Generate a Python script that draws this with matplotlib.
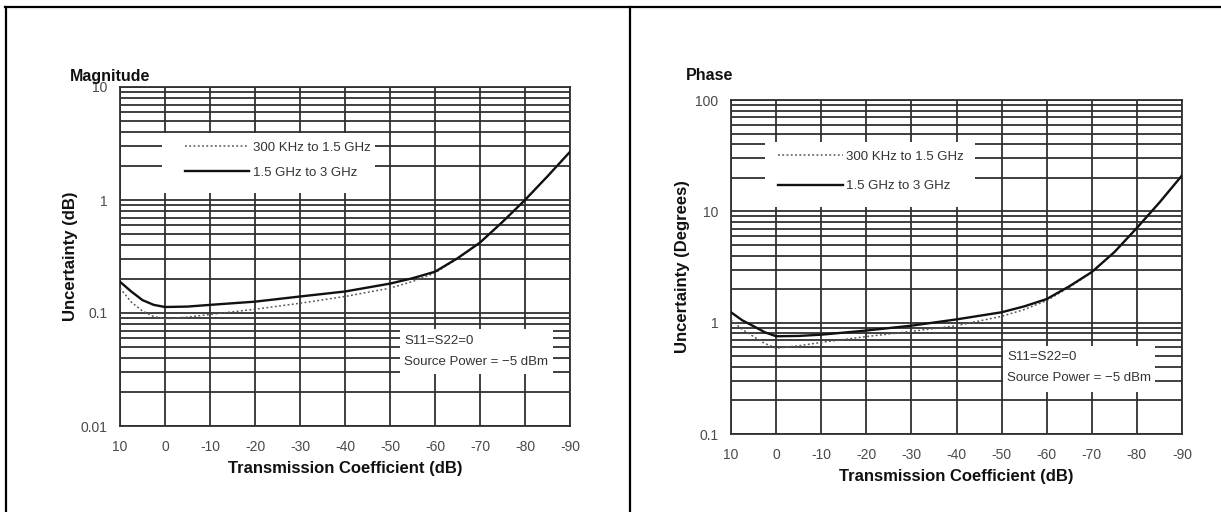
import matplotlib
matplotlib.use("Agg")
import matplotlib.pyplot as plt
from matplotlib.patches import Rectangle
from matplotlib.lines import Line2D
from matplotlib.ticker import FixedLocator, FixedFormatter, NullFormatter

plt.rcParams['font.family'] = ['Liberation Sans', 'DejaVu Sans']

# ---- data ----
x_db = [10, 7.5, 5, 2.5, 0, -5, -10, -20, -30, -40, -50, -55, -60, -65, -70, -75, -80, -85, -90]

mag_low = [0.166, 0.125, 0.104, 0.093, 0.089, 0.092, 0.097, 0.108, 0.122, 0.140, 0.166, 0.190, 0.226,
           0.303, 0.42, 0.64, 1.0, 1.62, 2.67]
mag_high = [0.189, 0.155, 0.130, 0.118, 0.113, 0.114, 0.118, 0.126, 0.140, 0.155, 0.182, 0.203, 0.232,
            0.305, 0.42, 0.64, 1.0, 1.62, 2.67]

ph_low = [1.06, 0.87, 0.75, 0.65, 0.59, 0.62, 0.665, 0.75, 0.835, 0.94, 1.14, 1.31, 1.58,
          2.08, 2.83, 4.3, 7.1, 12.0, 21.0]
ph_high = [1.24, 1.05, 0.93, 0.82, 0.755, 0.76, 0.78, 0.85, 0.94, 1.07, 1.24, 1.40, 1.63,
           2.12, 2.85, 4.3, 7.1, 12.0, 21.0]

x_ticks = [10, 0, -10, -20, -30, -40, -50, -60, -70, -80, -90]
x_ticklabels = ["10", "0", "-10", "-20", "-30", "-40", "-50", "-60", "-70", "-80", "-90"]

mag_yticks = [0.01, 0.1, 1, 10]
mag_yticklabels = ["0.01", "0.1", "1", "10"]
ph_yticks = [0.1, 1, 10, 100]
ph_yticklabels = ["0.1", "1", "10", "100"]

series_labels = ["300 KHz to 1.5 GHz", "1.5 GHz to 3 GHz"]
note_lines = ["S11=S22=0", "Source Power = \u22125 dBm"]

# ---- figure ----
W, H = 1221, 512
fig = plt.figure(figsize=(W / 100, H / 100), dpi=100)

GRID = '#303030'
TICKC = '#4a4a4a'


def fx(px):
    return px / W


def fy(py):
    return 1 - py / H


def make_panel(rect, y_low, y_high, yticks, yticklabels, ylim, title, title_xy, ylabel, ylabel_x,
               leg_box, leg_anchor, leg_spacing, note_box, note_xy):
    ax = fig.add_axes(rect)
    ax.set_yscale('log')
    ax.set_xlim(10, -90)
    ax.set_ylim(*ylim)
    ax.set_axisbelow(True)

    ax.xaxis.set_major_locator(FixedLocator(x_ticks))
    ax.xaxis.set_major_formatter(FixedFormatter(x_ticklabels))
    ax.yaxis.set_major_locator(FixedLocator(yticks))
    ax.yaxis.set_major_formatter(FixedFormatter(yticklabels))
    ax.yaxis.set_minor_formatter(NullFormatter())
    ax.tick_params(which='both', length=0, labelsize=10, labelcolor=TICKC)
    ax.tick_params(axis='x', pad=10)
    ax.tick_params(axis='y', pad=9)

    ax.grid(True, which='major', axis='x', color=GRID, lw=1.3)
    ax.grid(True, which='both', axis='y', color=GRID, lw=1.3)
    for s in ax.spines.values():
        s.set_color(GRID)
        s.set_linewidth(1.3)

    l1, = ax.plot(x_db, y_low, color='#555555', lw=1.1, ls=(0, (1.2, 1.6)), zorder=3)
    l2, = ax.plot(x_db, y_high, color='#111111', lw=1.7, zorder=4)

    # white legend box
    ax.add_patch(Rectangle((leg_box[0], leg_box[1]), leg_box[2] - leg_box[0], leg_box[3] - leg_box[1],
                           transform=ax.transAxes, facecolor='white', edgecolor='none', zorder=1.5))
    h1 = Line2D([], [], color='#555555', lw=1.1, ls=(0, (1.2, 1.6)))
    h2 = Line2D([], [], color='#111111', lw=1.7)
    leg = ax.legend([h1, h2], series_labels, loc='upper left', bbox_to_anchor=leg_anchor,
                    frameon=False, fontsize=9.5, handlelength=4.9, handletextpad=0.25,
                    labelspacing=leg_spacing, borderaxespad=0, borderpad=0)
    for t in leg.get_texts():
        t.set_color('#333333')

    # note box
    ax.add_patch(Rectangle((note_box[0], note_box[1]), note_box[2] - note_box[0], note_box[3] - note_box[1],
                           transform=ax.transAxes, facecolor='white', edgecolor='none', zorder=1.5))
    ax.text(note_xy[0], note_xy[1], note_lines[0], transform=ax.transAxes, fontsize=9.5,
            color='#333333', va='center', ha='left', zorder=5)
    ax.text(note_xy[0], note_xy[2], note_lines[1], transform=ax.transAxes, fontsize=9.5,
            color='#333333', va='center', ha='left', zorder=5)

    ax.set_xlabel("Transmission Coefficient (dB)", fontsize=12, fontweight='bold', labelpad=5, color='#111111')
    fig.text(fx(title_xy[0]), fy(title_xy[1]), title, fontsize=11.5, fontweight='bold',
             ha='left', va='center', color='#111111')
    fig.text(fx(ylabel_x[0]), fy(ylabel_x[1]), ylabel, fontsize=12, fontweight='bold',
             rotation=90, ha='center', va='center', color='#111111')
    return ax


axL = make_panel([fx(120), fy(426), fx(450), 339 / H], mag_low, mag_high, mag_yticks, mag_yticklabels,
                 (0.01, 10), "Magnitude", (70, 77), "Uncertainty (dB)", (71, 256),
                 leg_box=(0.093, 0.687, 0.567, 0.864), leg_anchor=(0.144, 0.839), leg_spacing=0.95,
                 note_box=(0.622, 0.153, 0.962, 0.286), note_xy=(0.631, 0.251, 0.189))

axR = make_panel([fx(731), fy(434), fx(451), 334 / H], ph_low, ph_high, ph_yticks, ph_yticklabels,
                 (0.1, 100), "Phase", (686, 75), "Uncertainty (Degrees)", (683, 267),
                 leg_box=(0.075, 0.680, 0.541, 0.874), leg_anchor=(0.104, 0.849), leg_spacing=1.33,
                 note_box=(0.603, 0.126, 0.940, 0.263), note_xy=(0.612, 0.230, 0.167))

# table frame lines
fig.add_artist(Line2D([fx(5), 1], [fy(7), fy(7)], color='black', lw=1.6))
fig.add_artist(Line2D([fx(6), fx(6)], [0, fy(7)], color='black', lw=1.6))
fig.add_artist(Line2D([fx(630), fx(630)], [0, fy(7)], color='black', lw=1.6))

fig.savefig("out.png", dpi=100)
